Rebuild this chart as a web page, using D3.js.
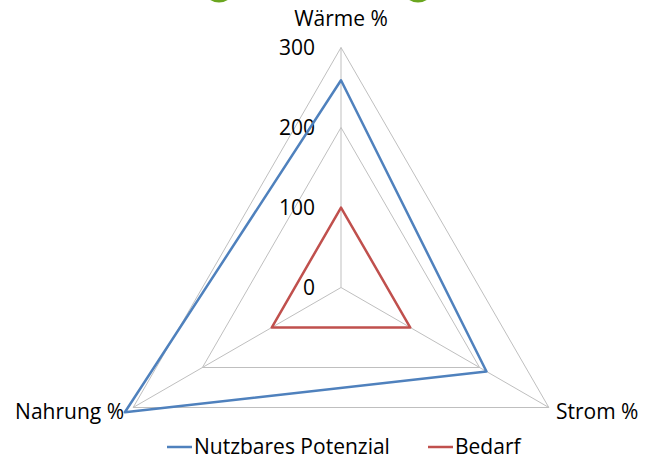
<!DOCTYPE html>
<html>
<head>
<meta charset="utf-8">
<script src="https://cdn.jsdelivr.net/npm/d3@7"></script>
<style>
  body { margin: 0; background: #fff; }
  text { font-family: "Open Sans", Lato, sans-serif; fill: #000; }
</style>
</head>
<body>
<div id="viz-container"></div>
<script>
let axes = ["Wärme %", "Strom %", "Nahrung %"];
let potenzial = [259, 210, 312];
let bedarf = [100, 100, 100];
let tickValues = [0, 100, 200, 300];
let seriesNames = ["Nutzbares Potenzial", "Bedarf"];
let seriesColors = ["#4f81bd", "#c0504d"];

let width = 646, height = 465;
let cx = 341, cy = 287.5;
let fontSize = 21;

let viz = d3.select("#viz-container")
              .append("svg")
                .attr("width", width)
                .attr("height", height)
;

// cut-off green shapes at the top edge
viz.selectAll("ellipse.deco").data([219, 418]).enter().append("ellipse")
    .attr("cx", d => d)
    .attr("cy", -5)
    .attr("rx", 11.5)
    .attr("ry", 7.5)
    .attr("fill", "#6aa61f");

let r = d3.scaleLinear().domain([0, 300]).range([0, 240]);

function angle(i){
  return -Math.PI / 2 + i * 2 * Math.PI / axes.length;
}
function point(v, i){
  return [cx + r(v) * Math.cos(angle(i)), cy + r(v) * Math.sin(angle(i))];
}

let g = viz.append("g");

// grid triangles
g.selectAll("polygon.grid").data(tickValues.slice(1)).enter().append("polygon")
    .attr("points", t => axes.map((a, i) => point(t, i).join(",")).join(" "))
    .attr("fill", "none")
    .attr("stroke", "#bfbfbf")
    .attr("stroke-width", 1);

// spokes
g.selectAll("line.spoke").data(axes).enter().append("line")
    .attr("x1", cx).attr("y1", cy)
    .attr("x2", (d, i) => point(300, i)[0])
    .attr("y2", (d, i) => point(300, i)[1])
    .attr("stroke", "#bfbfbf")
    .attr("stroke-width", 1);

// tick labels
g.selectAll("text.tick").data(tickValues).enter().append("text")
    .attr("x", cx - 26)
    .attr("y", d => cy - r(d))
    .attr("dy", "0.35em")
    .attr("text-anchor", "end")
    .attr("font-size", fontSize)
    .text(d => d);

// series
let series = [potenzial, bedarf];
g.selectAll("polygon.series").data(series).enter().append("polygon")
    .attr("points", s => s.map((v, i) => point(v, i).join(",")).join(" "))
    .attr("fill", "none")
    .attr("stroke", (d, i) => seriesColors[i])
    .attr("stroke-width", 2.5)
    .attr("stroke-linejoin", "round");

// axis labels
let labelPos = [
  {x: cx, y: 19, anchor: "middle"},
  {x: 556, y: 412, anchor: "start"},
  {x: 124, y: 412, anchor: "end"}
];
g.selectAll("text.axis").data(axes).enter().append("text")
    .attr("x", (d, i) => labelPos[i].x)
    .attr("y", (d, i) => labelPos[i].y)
    .attr("dy", "0.35em")
    .attr("text-anchor", (d, i) => labelPos[i].anchor)
    .attr("font-size", fontSize)
    .text(d => d);

// legend
let legendX = [167, 428];
let legend = viz.selectAll("g.legend").data(seriesNames).enter().append("g")
    .attr("transform", (d, i) => "translate(" + legendX[i] + ",447)");
legend.append("line")
    .attr("x1", 0).attr("x2", 25)
    .attr("stroke", (d, i) => seriesColors[i])
    .attr("stroke-width", 2.5);
legend.append("text")
    .attr("x", 27)
    .attr("dy", "0.35em")
    .attr("font-size", fontSize)
    .text(d => d);
</script>
</body>
</html>
